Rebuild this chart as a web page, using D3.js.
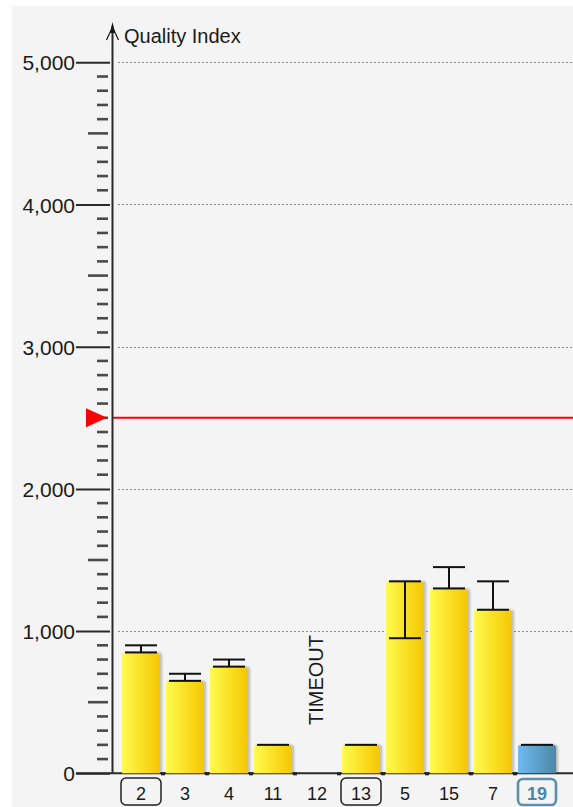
<!DOCTYPE html>
<html>
<head>
<meta charset="utf-8">
<script src="https://cdn.jsdelivr.net/npm/d3@7/dist/d3.min.js"></script>
<style>
  html, body { margin: 0; padding: 0; background: #ffffff; }
  svg { display: block; }
  text { font-family: "Liberation Sans", Arial, sans-serif; fill: #1a1a1a; }
</style>
</head>
<body>
<svg id="chart" width="573" height="807"></svg>
<script>
// Runs, in the order they appear on the x axis
const categories = ["2", "3", "4", "11", "12", "13", "5", "15", "7", "19"];
// Quality index per run (null = run timed out)
const values   = [850, 650, 750, 200, null, 200, 1350, 1300, 1150, 200];
// Far end of each run's error bar (the near end sits on the bar top)
const errorEnd = [900, 700, 800, 200, null, 200, 950, 1450, 1350, 200];
// Runs whose label is boxed, and the highlighted one
const boxed = ["2", "13"];
const highlighted = "19";
const threshold = 2500;
const yTicks = [0, 1000, 2000, 3000, 4000, 5000];

const W = 573, H = 807;
const axisX = 112;
const svg = d3.select("#chart");

const y = d3.scaleLinear().domain([0, 5000]).range([773.3, 62.3]);
const x = d3.scaleBand().domain(categories).range([119, 559])
  .paddingInner(0.136).paddingOuter(0.068);

const defs = svg.append("defs");
const gY = defs.append("linearGradient").attr("id", "gYellow");
gY.append("stop").attr("offset", "0%").attr("stop-color", "#fffb4e");
gY.append("stop").attr("offset", "100%").attr("stop-color", "#f5c600");
const gB = defs.append("linearGradient").attr("id", "gBlue");
gB.append("stop").attr("offset", "0%").attr("stop-color", "#6fbaf0");
gB.append("stop").attr("offset", "100%").attr("stop-color", "#4c87a6");
const sh = defs.append("filter").attr("id", "shadow")
  .attr("x", "-20%").attr("y", "-10%").attr("width", "140%").attr("height", "120%");
sh.append("feDropShadow").attr("dx", 2).attr("dy", 0).attr("stdDeviation", 1.2)
  .attr("flood-color", "#000").attr("flood-opacity", 0.25);

// panel background
svg.append("rect").attr("x", 12).attr("y", 6).attr("width", W - 12).attr("height", H - 6)
  .attr("fill", "#f4f4f4");

// dotted grid lines
svg.append("g").selectAll("line").data(yTicks.filter(d => d > 0)).join("line")
  .attr("x1", 118).attr("x2", W)
  .attr("y1", d => Math.round(y(d)) + 0.5).attr("y2", d => Math.round(y(d)) + 0.5)
  .attr("stroke", "#8c8c8c").attr("stroke-width", 1).attr("stroke-dasharray", "2,2");

// y axis ticks: minor every 100, medium at 500s, major at 1000s
const minor = d3.range(100, 5000, 100).filter(d => d % 1000 !== 0);
svg.append("g").selectAll("line").data(minor).join("line")
  .attr("x1", d => d % 500 === 0 ? 88 : 97).attr("x2", 108)
  .attr("y1", d => y(d)).attr("y2", d => y(d))
  .attr("stroke", "#4a4a4a").attr("stroke-width", 2.6);

const yAxis = d3.axisLeft(y).tickValues(yTicks).tickSize(34).tickPadding(1)
  .tickFormat(d3.format(","));
const ya = svg.append("g").attr("transform", `translate(${axisX - 2},0)`).call(yAxis);
ya.select(".domain").remove();
ya.selectAll(".tick line").attr("stroke", "#2a2a2a").attr("stroke-width", 2);
ya.selectAll(".tick text").attr("font-size", 21).attr("fill", "#1a1a1a")
  .attr("font-family", "Liberation Sans, Arial, sans-serif").attr("dy", "0.36em");

// x axis baseline
svg.append("line").attr("x1", 76).attr("x2", W)
  .attr("y1", y(0)).attr("y2", y(0)).attr("stroke", "#2a2a2a").attr("stroke-width", 2);
// small marks between bands
svg.append("g").selectAll("rect").data(categories.slice(1)).join("rect")
  .attr("x", d => x(d) - x.step() * 0.136 / 2 - 2).attr("y", y(0) - 1)
  .attr("width", 4).attr("height", 3).attr("fill", "#222");

// y axis line with arrow
svg.append("line").attr("x1", axisX + 0.5).attr("x2", axisX + 0.5)
  .attr("y1", 26).attr("y2", y(0)).attr("stroke", "#2a2a2a").attr("stroke-width", 2);
svg.append("path").attr("d", "M112.5,22 L115,33 L110,33 Z").attr("fill", "#111");
svg.append("path").attr("d", "M106.5,40 L112.5,27 L118.5,40")
  .attr("fill", "none").attr("stroke", "#222").attr("stroke-width", 1.3);
svg.append("text").attr("x", 124).attr("y", 43).attr("font-size", 20)
  .text("Quality Index");

// threshold line
svg.append("line").attr("x1", axisX + 1).attr("x2", W)
  .attr("y1", y(threshold)).attr("y2", y(threshold))
  .attr("stroke", "#ff0000").attr("stroke-width", 2);
svg.append("path")
  .attr("d", `M86,${y(threshold) - 9.5} L107,${y(threshold)} L86,${y(threshold) + 9.5} Z`)
  .attr("fill", "#ff0000");

// bars
const rows = categories.map((c, i) => ({ c, v: values[i], e: errorEnd[i] }));
const done = rows.filter(r => r.v !== null);
svg.append("g").selectAll("path").data(done).join("path")
  .attr("d", r => {
    const x0 = x(r.c), w = x.bandwidth(), t = y(r.v), b = y(0), rr = 3;
    return `M${x0},${b} L${x0},${t + rr} Q${x0},${t} ${x0 + rr},${t} L${x0 + w - rr},${t} Q${x0 + w},${t} ${x0 + w},${t + rr} L${x0 + w},${b} Z`;
  })
  .attr("fill", r => r.c === highlighted ? "url(#gBlue)" : "url(#gYellow)")
  .attr("filter", "url(#shadow)");

// error bars
const eb = svg.append("g").attr("stroke", "#111").attr("stroke-width", 2).attr("fill", "none");
done.forEach(r => {
  const cx = x(r.c) + x.bandwidth() / 2, hw = 16;
  eb.append("line").attr("x1", cx - hw).attr("x2", cx + hw).attr("y1", y(r.v)).attr("y2", y(r.v));
  if (r.e !== r.v) {
    eb.append("line").attr("x1", cx - hw).attr("x2", cx + hw).attr("y1", y(r.e)).attr("y2", y(r.e));
    eb.append("line").attr("x1", cx).attr("x2", cx).attr("y1", y(r.v)).attr("y2", y(r.e));
  }
});

// timed-out run
rows.filter(r => r.v === null).forEach(r => {
  const cx = x(r.c) + x.bandwidth() / 2;
  svg.append("text").attr("transform", `translate(${cx + 6},680) rotate(-90)`)
    .attr("text-anchor", "middle").attr("font-size", 20).text("TIMEOUT");
});

// category labels
const lab = svg.append("g").selectAll("g").data(categories).join("g")
  .attr("transform", d => `translate(${x(d) + x.bandwidth() / 2},0)`);
lab.filter(d => boxed.includes(d)).append("rect")
  .attr("x", -20).attr("y", 778).attr("width", 40).attr("height", 27).attr("rx", 5)
  .attr("fill", "none").attr("stroke", "#222").attr("stroke-width", 1.5);
lab.filter(d => d === highlighted).append("rect")
  .attr("x", -19).attr("y", 779).attr("width", 38).attr("height", 26).attr("rx", 5)
  .attr("fill", "none").attr("stroke", "#5a8fae").attr("stroke-width", 2.6);
lab.append("text").attr("y", 800).attr("text-anchor", "middle")
  .attr("font-size", 18)
  .attr("font-weight", d => d === highlighted ? "bold" : "normal")
  .style("fill", d => d === highlighted ? "#4a86a8" : "#1a1a1a")
  .text(d => d);
</script>
</body>
</html>
